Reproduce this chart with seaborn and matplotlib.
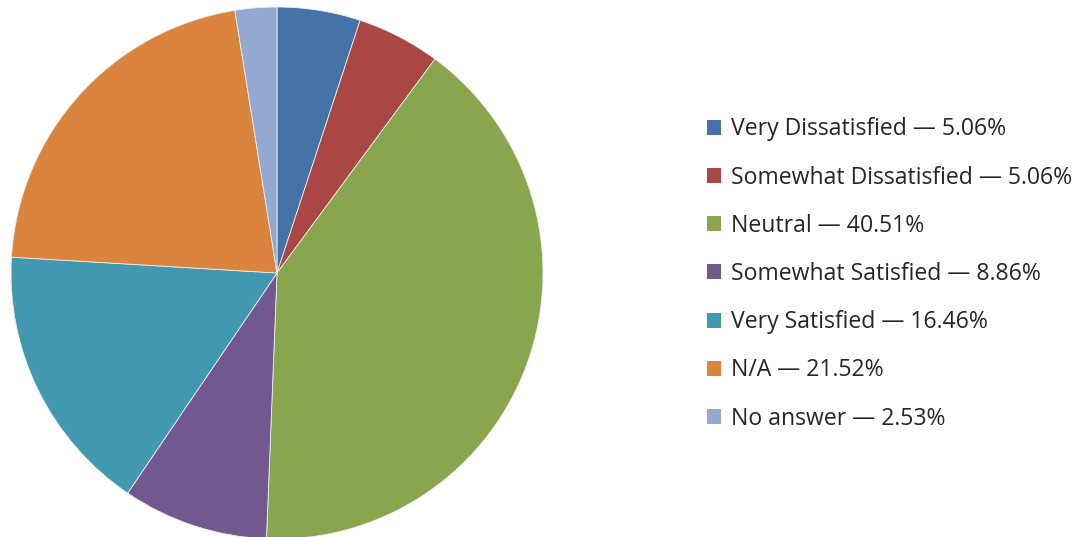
import matplotlib.pyplot as plt
import seaborn as sns
from matplotlib.patches import Patch

# survey answers, share of respondents in %
categories = ['Very Dissatisfied', 'Somewhat Dissatisfied', 'Neutral',
              'Somewhat Satisfied', 'Very Satisfied', 'N/A', 'No answer']
shares = [5.06, 5.06, 40.51, 8.86, 16.46, 21.52, 2.53]
colors = ['#4572A7', '#AA4643', '#89A54E', '#71588F', '#4198AF', '#DB843D', '#93A9CF']


def main():
    sns.set_theme(style='white')
    plt.rcParams['font.family'] = ['Open Sans', 'DejaVu Sans']
    palette = sns.color_palette(colors)

    fig = plt.figure(figsize=(10.85, 5.37), dpi=100)
    # pie: 532 px across, left edge at x=11, top at y=7
    ax = fig.add_axes([11 / 1085, -2 / 537, 532 / 1085, 532 / 537])
    ax.pie(shares, colors=palette, startangle=90, counterclock=False,
           wedgeprops=dict(edgecolor='#eeeeee', linewidth=0.6))
    ax.set_xlim(-1, 1)
    ax.set_ylim(-1, 1)
    ax.set_aspect('equal')
    ax.axis('off')

    labels = [f'{c} \u2014 {s:.2f}%' for c, s in zip(categories, shares)]
    handles = [Patch(facecolor=p, edgecolor='none') for p in palette]
    fig.legend(handles, labels, loc='center left',
               bbox_to_anchor=(707 / 1085, 263 / 537), frameon=False,
               fontsize=16.6, handlelength=0.62, handleheight=0.62,
               handletextpad=0.4, labelspacing=1.05, borderpad=0,
               borderaxespad=0)

    fig.savefig('out.png', dpi=100, facecolor='white')


if __name__ == '__main__':
    main()
